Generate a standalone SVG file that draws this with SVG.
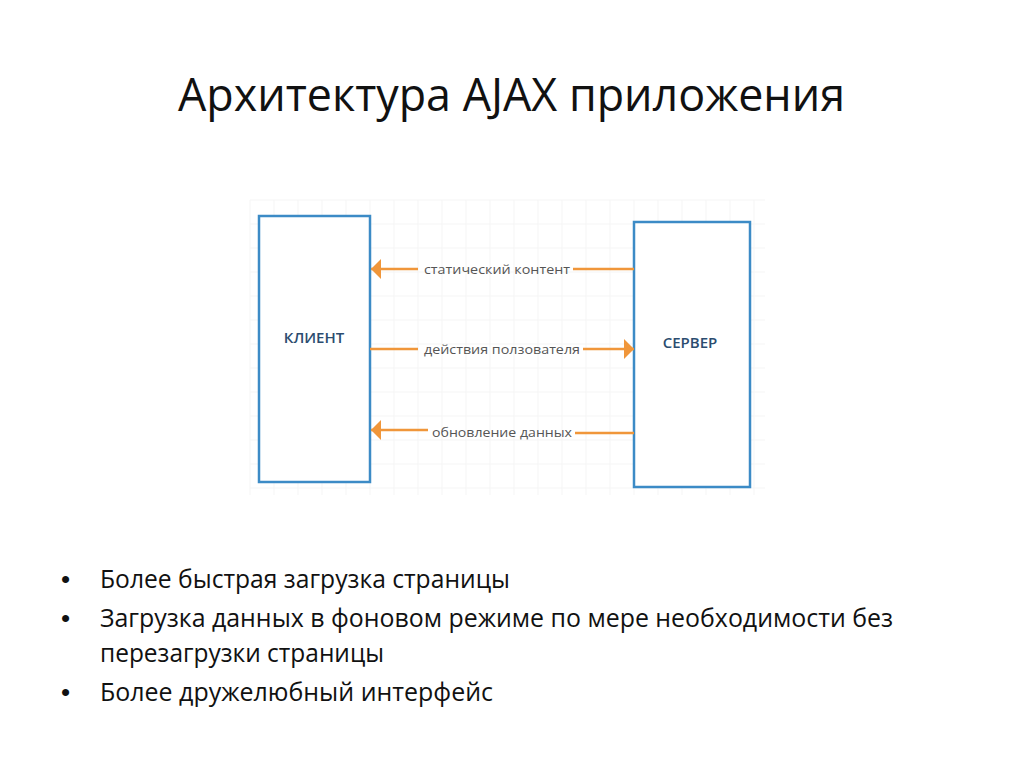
<svg xmlns="http://www.w3.org/2000/svg" width="1024" height="767" viewBox="0 0 1024 767">
<defs>
<style>
.title{font-family:"Open Sans","Liberation Sans",sans-serif;font-size:46px;fill:#111}
.bul{font-family:"Open Sans","Liberation Sans",sans-serif;font-size:25px;fill:#111}
.dot{font-family:"Liberation Sans",sans-serif;font-size:26px;fill:#111}
.lbl{font-family:"Open Sans","Liberation Sans",sans-serif;font-size:13px;fill:#555}
.node{font-family:"Open Sans","Liberation Sans",sans-serif;font-size:15px;font-weight:600;fill:#2b4c6f}
.box{fill:#fff;stroke:#3c8bc6;stroke-width:2.5}
.conn{stroke:#f0963a;stroke-width:2.5;fill:none}
.grid{stroke:#f5f5f5;stroke-width:1}
</style>
<marker id="ah" viewBox="0 0 10 10" refX="10" refY="5" markerWidth="10" markerHeight="20" markerUnits="userSpaceOnUse" orient="auto" preserveAspectRatio="none">
<path d="M0,0 L10,5 L0,10 Z" fill="#f0963a"/>
</marker>
</defs>
<rect width="1024" height="767" fill="#fff"/>
<g id="grid" class="grid">
<path d="M250,200 H765 M250,224 H765 M250,248 H765 M250,272 H765 M250,296 H765 M250,320 H765 M250,344 H765 M250,368 H765 M250,392 H765 M250,416 H765 M250,440 H765 M250,464 H765 M250,488 H765"/>
<path d="M250,200 V495 M274,200 V495 M298,200 V495 M322,200 V495 M346,200 V495 M370,200 V495 M394,200 V495 M418,200 V495 M442,200 V495 M466,200 V495 M490,200 V495 M514,200 V495 M538,200 V495 M562,200 V495 M586,200 V495 M610,200 V495 M634,200 V495 M658,200 V495 M682,200 V495 M706,200 V495 M730,200 V495 M754,200 V495"/>
</g>
<text class="title" x="178" y="111" textLength="667" lengthAdjust="spacingAndGlyphs">Архитектура AJAX приложения</text>
<g id="client">
<rect class="box" x="259" y="216" width="111" height="266"/>
<text class="node" x="314" y="343" text-anchor="middle">КЛИЕНТ</text>
</g>
<g id="server">
<rect class="box" x="634" y="222" width="116" height="265"/>
<text class="node" x="690" y="348" text-anchor="middle">СЕРВЕР</text>
</g>
<g id="connectors">
<line class="conn" x1="634" y1="269" x2="573" y2="269"/>
<line class="conn" x1="418" y1="269" x2="371" y2="269" marker-end="url(#ah)"/>
<text class="lbl" x="424" y="274" textLength="146" lengthAdjust="spacingAndGlyphs">статический контент</text>
<line class="conn" x1="370" y1="349" x2="418" y2="349"/>
<line class="conn" x1="583" y1="349" x2="634" y2="349" marker-end="url(#ah)"/>
<text class="lbl" x="424" y="354" textLength="156" lengthAdjust="spacingAndGlyphs">действия ползователя</text>
<line class="conn" x1="634" y1="433" x2="575" y2="433"/>
<line class="conn" x1="428" y1="430" x2="371" y2="430" marker-end="url(#ah)"/>
<text class="lbl" x="432" y="437" textLength="140" lengthAdjust="spacingAndGlyphs">обновление данных</text>
</g>
<g id="bullets">
<text class="dot" x="61" y="588">•</text>
<text class="bul" x="100" y="588" textLength="410" lengthAdjust="spacingAndGlyphs">Более быстрая загрузка страницы</text>
<text class="dot" x="61" y="627">•</text>
<text class="bul" x="100" y="627" textLength="793" lengthAdjust="spacingAndGlyphs">Загрузка данных в фоновом режиме по мере необходимости без</text>
<text class="bul" x="100" y="662" textLength="284" lengthAdjust="spacingAndGlyphs">перезагрузки страницы</text>
<text class="dot" x="61" y="701">•</text>
<text class="bul" x="100" y="701" textLength="393" lengthAdjust="spacingAndGlyphs">Более дружелюбный интерфейс</text>
</g>
</svg>
